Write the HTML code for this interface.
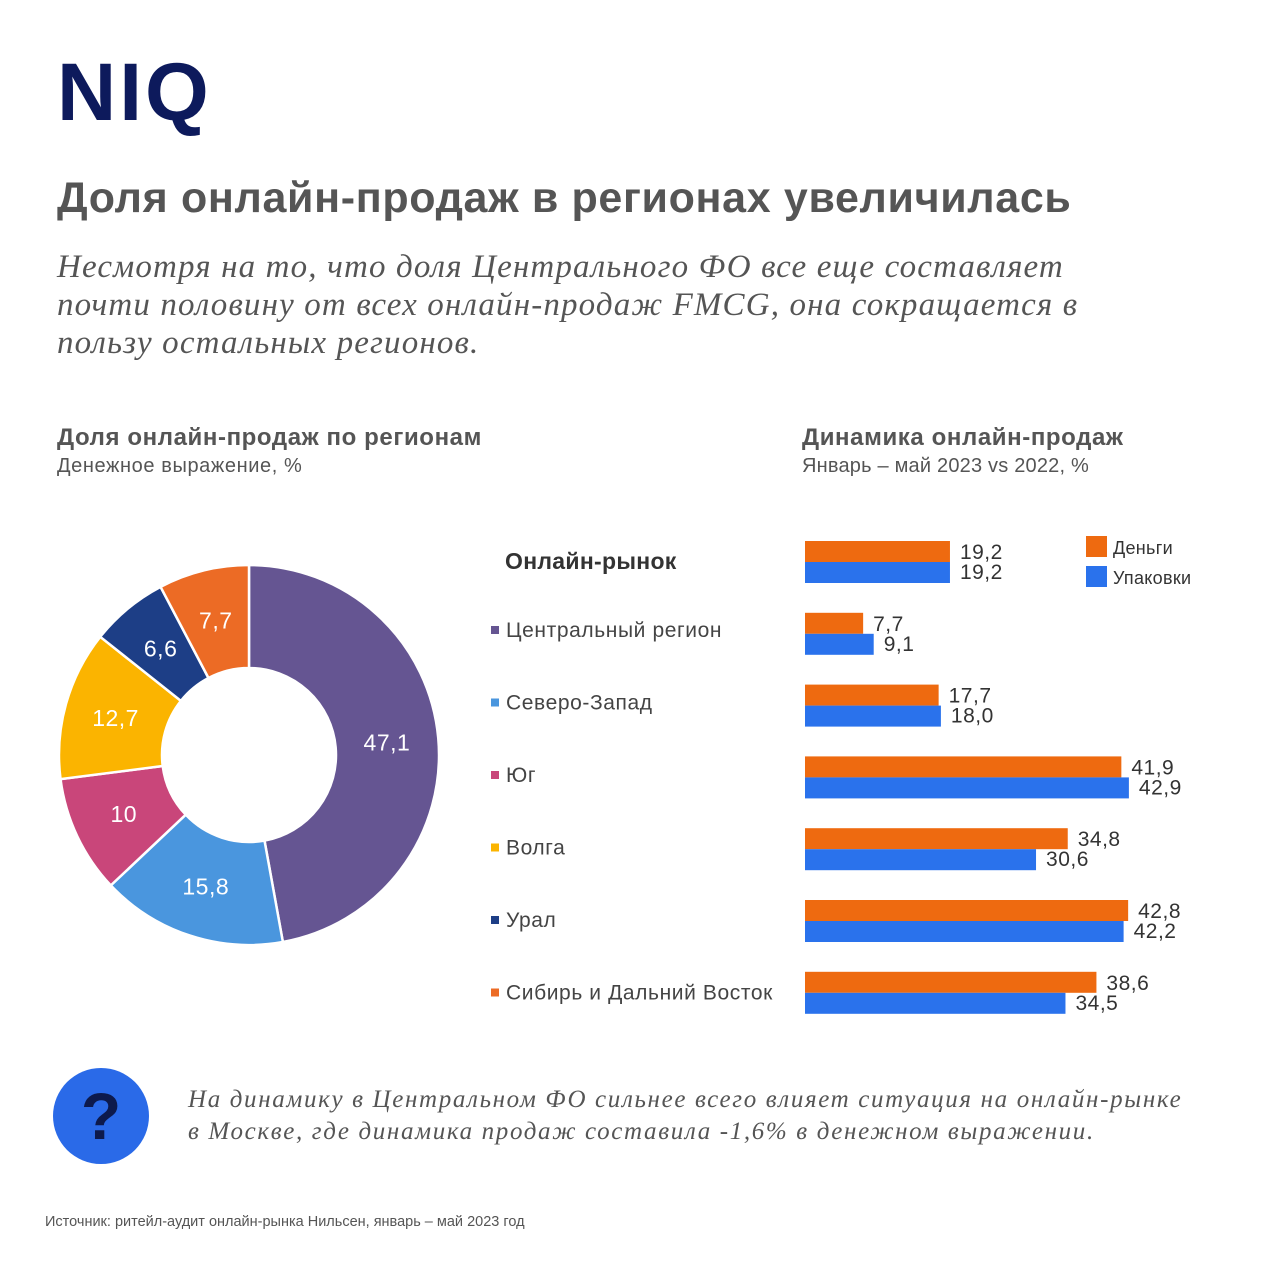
<!DOCTYPE html>
<html><head><meta charset="utf-8">
<style>
body{margin:0;width:1280px;height:1280px;background:#fff;font-family:"Liberation Sans",sans-serif;position:relative;overflow:hidden}
.a{position:absolute;white-space:nowrap}
.ser{font-family:"Liberation Serif",serif;font-style:italic;color:#555}
</style></head><body>
<div class="a" style="left:57px;top:46px;font-size:82px;font-weight:bold;color:#0d1a5c;letter-spacing:3px">NIQ</div>
<div class="a" style="left:57px;top:174px;font-size:43px;font-weight:bold;color:#555;letter-spacing:0.65px">Доля онлайн-продаж в регионах увеличилась</div>
<div class="a ser" style="left:57px;top:248px;font-size:33px;line-height:38px;letter-spacing:1.15px">Несмотря на то, что доля Центрального ФО все еще составляет<br>почти половину от всех онлайн-продаж FMCG, она сокращается в<br>пользу остальных регионов.</div>
<div class="a" style="left:57px;top:424px;font-size:24px;font-weight:bold;color:#555;letter-spacing:0.6px">Доля онлайн-продаж по регионам</div>
<div class="a" style="left:57px;top:455px;font-size:20px;color:#555;letter-spacing:0.6px">Денежное выражение, %</div>
<div class="a" style="left:802px;top:424px;font-size:24px;font-weight:bold;color:#555;letter-spacing:0.6px">Динамика онлайн-продаж</div>
<div class="a" style="left:802px;top:455px;font-size:20px;color:#555;letter-spacing:0.2px">Январь – май 2023 vs 2022, %</div>
<div class="a" style="left:505px;top:548px;font-size:23px;font-weight:bold;color:#333;letter-spacing:0.3px">Онлайн-рынок</div>
<svg id="chart" class="a" style="left:0;top:0" width="1280" height="1060"></svg>
<div class="a" style="left:53px;top:1068px;width:96px;height:96px;border-radius:50%;background:#2a6ae8;color:#0d1a4c;font-size:66px;font-weight:bold;text-align:center;line-height:96px">?</div>
<div class="a ser" style="left:188px;top:1084px;font-size:25px;line-height:32px;letter-spacing:1.65px">На динамику в Центральном ФО сильнее всего влияет ситуация на онлайн-рынке<br>в Москве, где динамика продаж составила -1,6% в денежном выражении.</div>
<div class="a" style="left:45px;top:1214px;font-size:14.5px;color:#555">Источник: ритейл-аудит онлайн-рынка Нильсен, январь – май 2023 год</div>
<script>
const regions=["Центральный регион","Северо-Запад","Юг","Волга","Урал","Сибирь и Дальний Восток"];
const shares=[47.1,15.8,10,12.7,6.6,7.7];
const shareLabels=["47,1","15,8","10","12,7","6,6","7,7"];
const colors=["#655592","#4a96de","#c9467a","#fbb400","#1d3e86","#ec6b25"];
const barCats=["Онлайн-рынок"].concat(regions);
const money=[19.2,7.7,17.7,41.9,34.8,42.8,38.6];
const packs=[19.2,9.1,18.0,42.9,30.6,42.2,34.5];
const NS="http://www.w3.org/2000/svg";
const svg=document.getElementById('chart');
function mk(t,a){const e=document.createElementNS(NS,t);for(const k in a)e.setAttribute(k,a[k]);svg.appendChild(e);return e;}
const cx=249,cy=755,R=190,r=87;
const tot=shares.reduce((a,b)=>a+b,0);
let acc=0;
function pt(f,rad){const a=f*2*Math.PI-Math.PI/2;return [cx+rad*Math.cos(a),cy+rad*Math.sin(a)];}
shares.forEach((v,i)=>{
 const f0=acc/tot,f1=(acc+v)/tot;acc+=v;
 const [x0,y0]=pt(f0,R),[x1,y1]=pt(f1,R),[x2,y2]=pt(f1,r),[x3,y3]=pt(f0,r);
 const lg=(f1-f0)>0.5?1:0;
 const p=mk('path',{d:`M${x0},${y0}A${R},${R} 0 ${lg} 1 ${x1},${y1}L${x2},${y2}A${r},${r} 0 ${lg} 0 ${x3},${y3}Z`,fill:colors[i],stroke:'#fff','stroke-width':2.5});
 
 
 const [lx,ly]=pt((f0+f1)/2,(R+r)/2);
 const t=mk('text',{x:lx,y:ly+8,'text-anchor':'middle','font-size':23,fill:'#fff','letter-spacing':0.5});
 t.textContent=shareLabels[i];
 
 
});
regions.forEach((n,i)=>{
 const y=630+i*72.5;
 const s=mk('rect',{x:491,y:y-4,width:8,height:8,fill:colors[i]});
 
 
 const t=mk('text',{x:506,y:y+7,'font-size':21,fill:'#444','letter-spacing':0.6});t.textContent=n;
 
 
});
const x0=805,k=7.55,bh=21;
function xs(v){return v*k;}
function fmt(v){return v.toFixed(1).replace('.',',');}
money.forEach((v,i)=>{
 const y=541+i*71.8;
 const b1=mk('rect',{x:x0,y:y,width:xs(v),height:bh,fill:'#ee6a10'});
 
 
 const b2=mk('rect',{x:x0,y:y+bh,width:xs(packs[i]),height:bh,fill:'#2a72ec'});
 
 
 const t1=mk('text',{x:x0+xs(v)+10,y:y+18,'font-size':21,fill:'#333','letter-spacing':0.5});t1.textContent=fmt(v);
 
 
 const t2=mk('text',{x:x0+xs(packs[i])+10,y:y+38,'font-size':21,fill:'#333','letter-spacing':0.5});t2.textContent=fmt(packs[i]);
 
 
});
const l1=mk('rect',{x:1086,y:536,width:21,height:21,fill:'#ee6a10'});


const l2=mk('rect',{x:1086,y:566,width:21,height:21,fill:'#2a72ec'});


const lt1=mk('text',{x:1113,y:554,'font-size':18,fill:'#333','letter-spacing':0.3});lt1.textContent='Деньги';


const lt2=mk('text',{x:1113,y:584,'font-size':18,fill:'#333','letter-spacing':0.3});lt2.textContent='Упаковки';


</script>
</body></html>
